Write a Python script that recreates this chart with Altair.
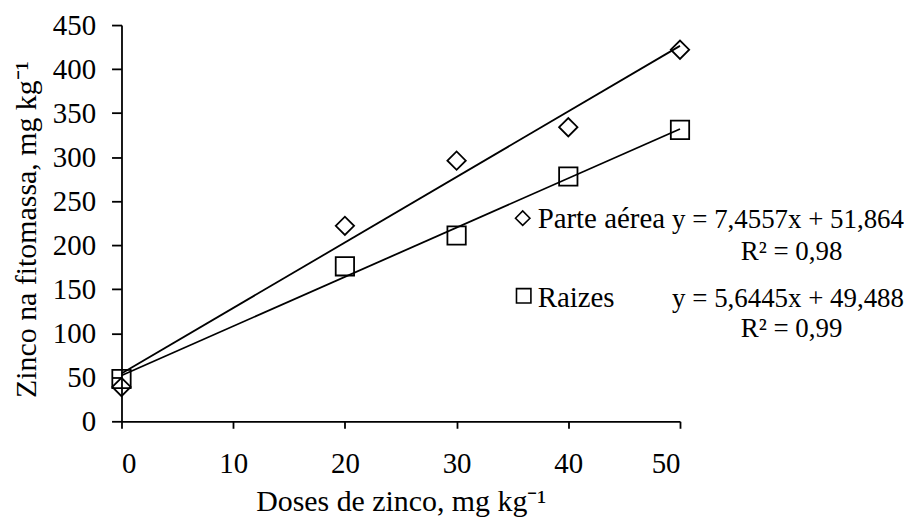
import altair as alt
import pandas as pd

doses = [0, 20, 30, 40, 50]
parte_aerea = [39, 222, 296, 334, 422]
raizes = [48, 176, 211, 278, 331]
series = ["Parte aérea", "Raizes"]
equations = ["y = 7,4557x + 51,864", "y = 5,6445x + 49,488"]
r2_labels = ["R² = 0,98", "R² = 0,99"]
x_ticks = [0, 10, 20, 30, 40, 50]
y_ticks = [0, 50, 100, 150, 200, 250, 300, 350, 400, 450]

FONT = "Liberation Serif"
FS = 29
FS_TITLE = 30
FS_EQ = 27

df = pd.DataFrame(
    {
        "dose": doses * 2,
        "zinco": parte_aerea + raizes,
        "serie": [series[0]] * len(doses) + [series[1]] * len(doses),
    }
)

xs = alt.X(
    "dose:Q",
    scale=alt.Scale(domain=[0, 50], nice=False, zero=True),
    axis=alt.Axis(
        values=x_ticks,
        title="Doses de zinco, mg kg⁻¹",
        tickSize=7,
        labelPadding=21,
        titleBaseline="alphabetic",
        titleY=90,
    ),
)
ys = alt.Y(
    "zinco:Q",
    scale=alt.Scale(domain=[0, 450], nice=False, zero=True),
    axis=alt.Axis(
        values=y_ticks,
        title="Zinco na fitomassa, mg kg⁻¹",
        tickSize=10,
        labelPadding=16,
        titleBaseline="alphabetic",
        titleX=-86,
        titleY=205,
    ),
)
shape = alt.Shape(
    "serie:N",
    scale=alt.Scale(domain=series, range=["diamond", "square"]),
    legend=None,
)

points = (
    alt.Chart(df)
    .mark_point(filled=False, color="black", strokeWidth=1.8, size=340, opacity=1)
    .encode(x=xs, y=ys, shape=shape)
)

lines = (
    alt.Chart(df)
    .transform_regression("dose", "zinco", groupby=["serie"], extent=[0, 50])
    .mark_line(color="black", strokeWidth=1.8)
    .encode(x=xs, y=ys, detail="serie:N")
)

layers = [lines, points]

# manual legend + equations (pixel positions inside the plot area)
leg_sym_x = [403, 404]
leg_sym_y = [194, 272]
leg_shapes = ["diamond", "square"]
row_base = [204, 283]
r2_base = [236, 313]
for i in range(2):
    layers.append(
        alt.Chart(pd.DataFrame({"s": [series[i]]}))
        .mark_point(filled=False, color="black", strokeWidth=1.6, size=210, opacity=1,
                    shape=leg_shapes[i])
        .encode(x=alt.value(leg_sym_x[i]), y=alt.value(leg_sym_y[i]))
    )
    layers.append(
        alt.Chart(pd.DataFrame({"t": [series[i]]}))
        .mark_text(font=FONT, fontSize=FS, color="black", align="left", baseline="alphabetic")
        .encode(x=alt.value(418), y=alt.value(row_base[i]), text="t:N")
    )
    layers.append(
        alt.Chart(pd.DataFrame({"t": [equations[i]]}))
        .mark_text(font=FONT, fontSize=FS_EQ, color="black", align="right", baseline="alphabetic")
        .encode(x=alt.value(786), y=alt.value(row_base[i]), text="t:N")
    )
    layers.append(
        alt.Chart(pd.DataFrame({"t": [r2_labels[i]]}))
        .mark_text(font=FONT, fontSize=FS_EQ, color="black", align="center", baseline="alphabetic")
        .encode(x=alt.value(673), y=alt.value(r2_base[i]), text="t:N")
    )

chart = (
    alt.layer(*layers)
    .properties(
        width=561,
        height=398,
        autosize=alt.AutoSizeParams(type="none"),
        padding={"left": 114, "top": 16, "right": 225, "bottom": 97},
        background="white",
    )
    .configure_view(stroke=None)
    .configure_axis(
        grid=False,
        domainColor="black",
        domainWidth=1.8,
        tickColor="black",
        tickWidth=1.8,
        labelColor="black",
        titleColor="black",
        labelFont=FONT,
        titleFont=FONT,
        labelFontSize=FS,
        titleFontSize=FS_TITLE,
        titleFontWeight="normal",
    )
)

chart.save("out.html", embed_options={"renderer": "svg", "actions": False})
